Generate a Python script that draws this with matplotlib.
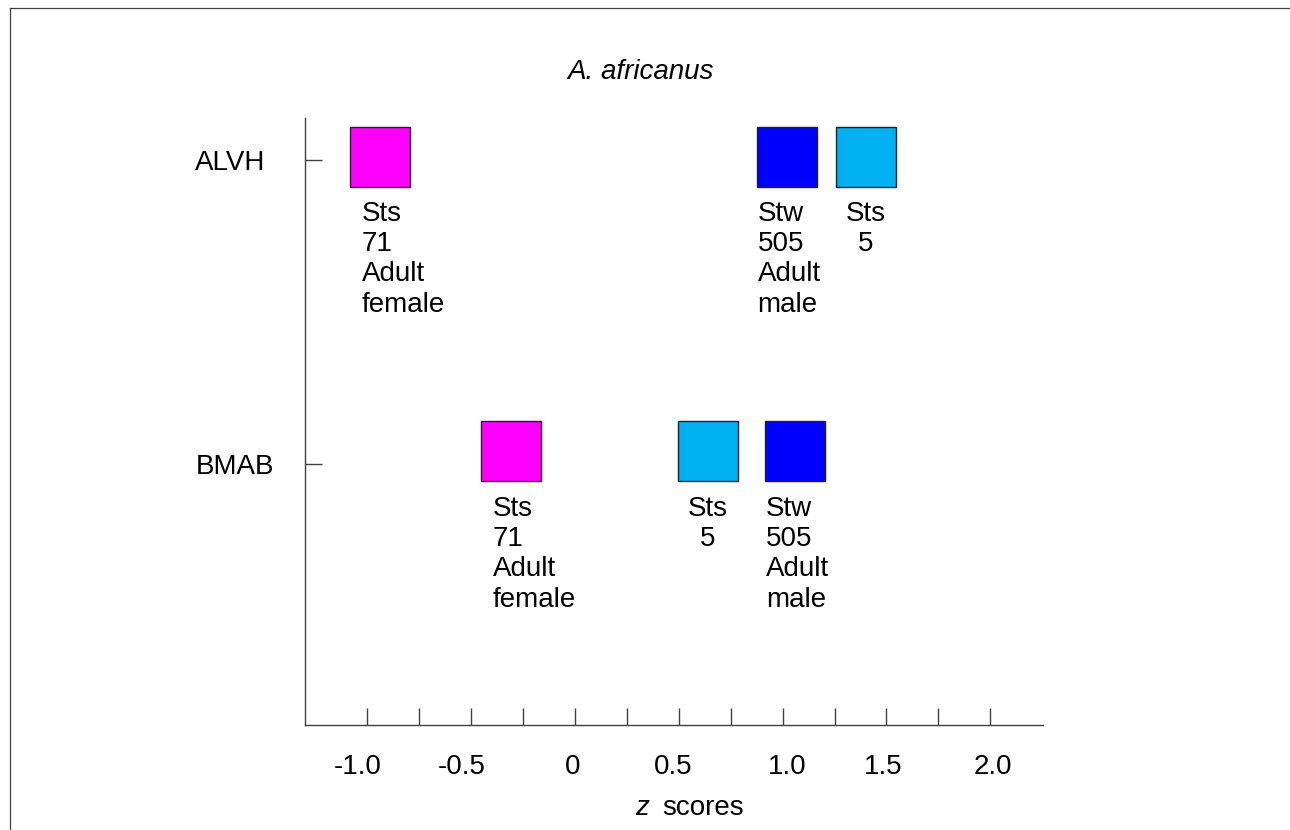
import matplotlib
matplotlib.use("Agg")
import matplotlib.pyplot as plt
import matplotlib.transforms as mtransforms
from matplotlib.lines import Line2D

plt.rcParams['font.family'] = ['Liberation Sans', 'DejaVu Sans']
plt.rcParams['font.size'] = 20

# data
traits = ['ALVH', 'BMAB']
trait_rows = [2, 1]
specimens = ['Sts 71', 'Stw 505', 'Sts 5']
specimen_text = ['Sts\n71\nAdult\nfemale', 'Stw\n505\nAdult\nmale', 'Sts\n5']
z_alvh = [-0.94, 1.02, 1.40]
z_bmab = [-0.31, 1.06, 0.64]
xticks_major = [-1.0, -0.5, 0.0, 0.5, 1.0, 1.5, 2.0]
xtick_labels = ['-1.0', '-0.5', '0', '0.5', '1.0', '1.5', '2.0']
xticks_minor = [-0.75, -0.25, 0.25, 0.75, 1.25, 1.75]

# styling
colors = ['#FF00FF', '#0000FF', '#00B0F0']
label_dx = [-13, -21, 0]          # points, text offset from square centre
label_ha = ['left', 'left', 'center']
row_nudge = [2.4, 9.0]            # points, squares sit a bit above the tick
xlab_shift = [-7, -7, -2, -4, 3, -2, 2]   # points, tick labels are a bit off-centre
axis_col = '#404040'

fig = plt.figure(figsize=(12.9, 8.3), dpi=100)
ax = fig.add_axes([305 / 1290, 1 - 725 / 830, (1043 - 305) / 1290, (725 - 118) / 830])

ax.set_xlim(-1.30, 2.254)
ax.set_ylim(0.1414, 2.138)

for r, (row, zs) in enumerate(zip(trait_rows, [z_alvh, z_bmab])):
    tr = mtransforms.offset_copy(ax.transData, fig=fig, x=0, y=row_nudge[r], units='points')
    for i, z in enumerate(zs):
        ax.plot([z], [row], marker='s', ms=43, mfc=colors[i], mec='#222222', mew=1.0,
                ls='none', transform=tr, clip_on=False)
        ax.annotate(specimen_text[i], xy=(z, row), xycoords=tr,
                    xytext=(label_dx[i], -32), textcoords='offset points',
                    ha=label_ha[i], va='top', multialignment=label_ha[i],
                    linespacing=1.21)

for s in ['top', 'right']:
    ax.spines[s].set_visible(False)
for s in ['left', 'bottom']:
    ax.spines[s].set_color(axis_col)
    ax.spines[s].set_linewidth(1.0)

ax.set_xticks(xticks_major)
ax.set_xticklabels(xtick_labels)
ax.set_xticks(xticks_minor, minor=True)
ax.tick_params(axis='x', which='both', direction='in', length=12.2, width=1.0,
               color=axis_col, pad=21)
for lab, dx in zip(ax.get_xticklabels(), xlab_shift):
    lab.set_transform(lab.get_transform() + mtransforms.ScaledTranslation(dx / 72, 0, fig.dpi_scale_trans))
ax.set_yticks(trait_rows)
ax.set_yticklabels(traits)
ax.tick_params(axis='y', direction='in', length=12.2, width=1.0, color=axis_col, pad=79)
for lab in ax.get_yticklabels():
    lab.set_horizontalalignment('left')

fig.text(640.5 / 1290, 1 - 79 / 830, 'A. africanus', style='italic', ha='center', va='baseline')
fig.text(635 / 1290, 1 - 815 / 830, 'z', style='italic', ha='left', va='baseline')
fig.text(662 / 1290, 1 - 815 / 830, 'scores', ha='left', va='baseline')

# frame round the figure (only top and left edges show)
fig.add_artist(Line2D([9.5 / 1290, 9.5 / 1290], [0, 1 - 8 / 830], transform=fig.transFigure,
                      color=axis_col, lw=0.9))
fig.add_artist(Line2D([9.5 / 1290, 1], [1 - 8 / 830, 1 - 8 / 830], transform=fig.transFigure,
                      color=axis_col, lw=0.9))

fig.savefig('out.png', dpi=100)
